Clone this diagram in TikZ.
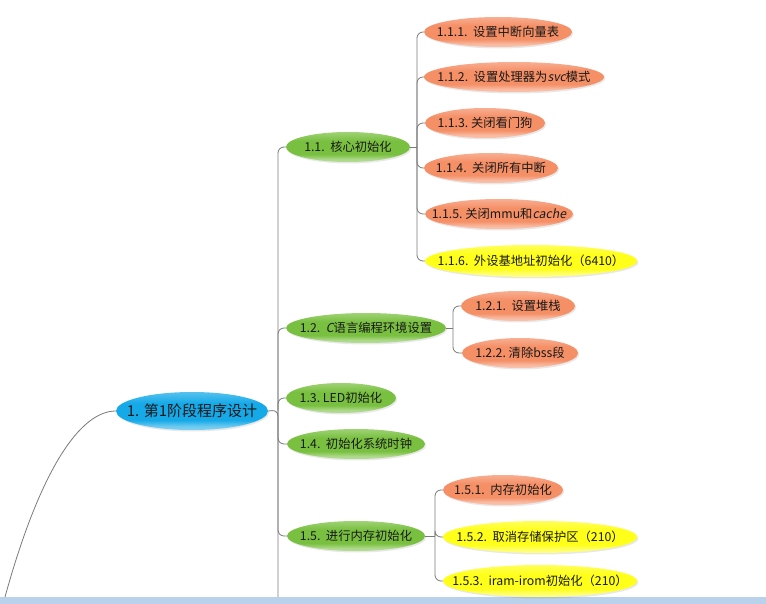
\documentclass[tikz,border=0pt]{standalone}
\usepackage{fontspec}
\setmainfont{Noto Sans CJK SC}
\newfontfamily\slfont[FakeSlant=0.2]{Noto Sans CJK SC}
\usetikzlibrary{shapes.geometric,shadows}
\definecolor{grc}{HTML}{79C040}
\definecolor{orc}{HTML}{F58F66}
\definecolor{yec}{HTML}{FFFF1A}
\definecolor{blc}{HTML}{15A9E8}
\definecolor{linec}{HTML}{7A7A7A}
\definecolor{stripc}{HTML}{B9D1EA}
\colorlet{basec}{grc}
\pgfdeclareverticalshading[basec]{gloss}{100bp}{%
  color(0bp)=(basec!55!white); color(25bp)=(basec!55!white);
  color(30bp)=(basec!62!white); color(38bp)=(basec);
  color(60bp)=(basec); color(72bp)=(basec!78!white);
  color(75bp)=(basec!72!white); color(100bp)=(basec!72!white)}
\begin{document}
\begin{tikzpicture}[x=1pt,y=-1pt,
  conn/.style={draw=linec, line width=0.8pt, rounded corners=6pt},
  bub/.style={ellipse, inner sep=0pt, minimum height=30pt, shade, shading=gloss,
    drop shadow={opacity=0.18, shadow xshift=1.2pt, shadow yshift=-1.5pt},
    label={[font=\fontsize{12.3}{14}\selectfont, text=black!90]center:#1}},
  gbub/.style={/utils/exec={\colorlet{basec}{grc}}, bub={#1}},
  obub/.style={/utils/exec={\colorlet{basec}{orc}}, bub={#1}},
  ybub/.style={/utils/exec={\colorlet{basec}{yec}}, bub={#1}, minimum height=32pt},
  rbub/.style={/utils/exec={\colorlet{basec}{blc}}, ellipse, inner sep=0pt, minimum height=38pt,
    shade, shading=gloss,
    drop shadow={opacity=0.18, shadow xshift=1.2pt, shadow yshift=-1.5pt},
    label={[font=\fontsize{15}{17}\selectfont, text=black!90]center:#1}}
]
\useasboundingbox (0,0) rectangle (766,604);
\fill[white] (0,0) rectangle (766,604);
\fill[stripc] (0,597) rectangle (766,604);

% junction coordinates
\coordinate (t1) at (278,410);
\coordinate (tb) at (278,597);
\coordinate (j11) at (417,147);
\coordinate (j12) at (453,328);
\coordinate (j15) at (435,536);
\coordinate (rb) at (5,597);

% nodes
\node[rbub={1. 第1阶段程序设计}, minimum width=152pt] (root) at (192,411) {};

\node[gbub={1.1.\ \ 核心初始化}, minimum width=124pt] (n11) at (348,147) {};
\node[gbub={1.2.\ \ {\slfont C}语言编程环境设置}, minimum width=160pt] (n12) at (366,328) {};
\node[gbub={1.3.\ LED初始化}, minimum width=110pt] (n13) at (341,398) {};
\node[gbub={1.4.\ \ 初始化系统时钟}, minimum width=138pt] (n14) at (356,444) {};
\node[gbub={1.5.\ \ 进行内存初始化}, minimum width=138pt] (n15) at (356,536) {};

\node[obub={1.1.1.\ \ 设置中断向量表}, minimum width=148pt] (n111) at (498,32) {};
\node[obub={1.1.2.\ \ 设置处理器为{\slfont svc}模式}, minimum width=180pt] (n112) at (514,77) {};
\node[obub={1.1.3.\ 关闭看门狗}, minimum width=120pt] (n113) at (485,123) {};
\node[obub={1.1.4.\ \ 关闭所有中断}, minimum width=134pt] (n114) at (491,168) {};
\node[obub={1.1.5.\ 关闭mmu和{\slfont cache}}, minimum width=148pt] (n115) at (499,214) {};
\node[ybub={1.1.6.\ \ 外设基地址初始化（6410）}, minimum width=212pt] (n116) at (531,261) {};

\node[obub={1.2.1.\ \ 设置堆栈}, minimum width=114pt] (n121) at (518,306) {};
\node[obub={1.2.2.\ 清除bss段}, minimum width=116pt] (n122) at (520,353) {};

\node[obub={1.5.1.\ \ 内存初始化}, minimum width=120pt] (n151) at (503,490) {};
\node[ybub={1.5.2.\ \ 取消存储保护区（210）}, minimum width=194pt] (n152) at (540,537) {};
\node[ybub={1.5.3.\ \ iram-irom初始化（210）}, minimum width=194pt] (n153) at (540,581) {};

% connectors
\draw[draw=linec, line width=0.8pt] (root.west) .. controls (80,411) and (40,470) .. (rb);
\draw[conn] (root.east) -- (t1) -- (tb);
\foreach \c in {n11,n12,n13,n14,n15} \draw[conn] (t1) |- (\c.west);
\draw[conn] (n11.east) -- (j11);
\foreach \c in {n111,n112,n113,n114,n115,n116} \draw[conn] (j11) |- (\c.west);
\draw[conn] (n12.east) -- (j12);
\foreach \c in {n121,n122} \draw[conn] (j12) |- (\c.west);
\draw[conn] (n15.east) -- (j15);
\foreach \c in {n151,n152,n153} \draw[conn] (j15) |- (\c.west);
\end{tikzpicture}
\end{document}
